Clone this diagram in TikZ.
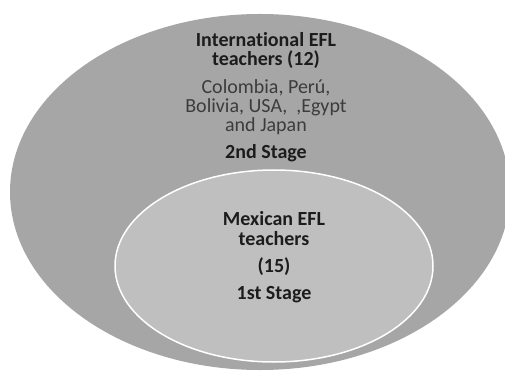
\documentclass[tikz,border=0pt]{standalone}
\usepackage{fontspec}
\setmainfont{Carlito}[Ligatures={NoCommon}]
\usetikzlibrary{shapes.geometric, positioning}

\definecolor{outergray}{RGB}{166,166,166}
\definecolor{innergray}{RGB}{191,191,191}
\definecolor{darktext}{RGB}{28,28,28}
\definecolor{softtext}{RGB}{60,60,60}

\begin{document}
\begin{tikzpicture}[x=1pt, y=-1pt,
        group/.style={ellipse, inner sep=0pt},
        title/.style={font=\fontsize{20}{20}\selectfont\bfseries, text=darktext, anchor=base, inner sep=0pt},
        list/.style={font=\fontsize{20}{20}\selectfont, text=softtext, anchor=base, inner sep=0pt}]
    \useasboundingbox[fill=white] (0, 0) rectangle (505, 371);

    \node[group, fill=outergray, minimum width=500pt, minimum height=356pt] (intl) at (260, 192) {};
    \node[group, fill=innergray, draw=white, line width=1.5pt, minimum width=318pt, minimum height=192pt] (mex) at (274, 266) {};

    % outer group
    \node[title] (intlname) at (266, 47) {International EFL};
    \node[title] (intlteach) at (266, 66) {teachers (12)};
    \node[list] (countriesa) at (266, 94) {Colombia, Perú,};
    \node[list] (countriesb) at (266, 113) {Bolivia, USA, \ ,Egypt};
    \node[list] (countriesc) at (266, 132) {and Japan};
    \node[title] (second) at (266, 159) {2nd Stage};

    % inner group
    \node[title] (mexname) at (274, 225) {Mexican EFL};
    \node[title] (mexteach) at (274, 245) {teachers};
    \node[title] (mexcount) at (274, 272) {(15)};
    \node[title] (first) at (274, 299) {1st Stage};
\end{tikzpicture}
\end{document}
